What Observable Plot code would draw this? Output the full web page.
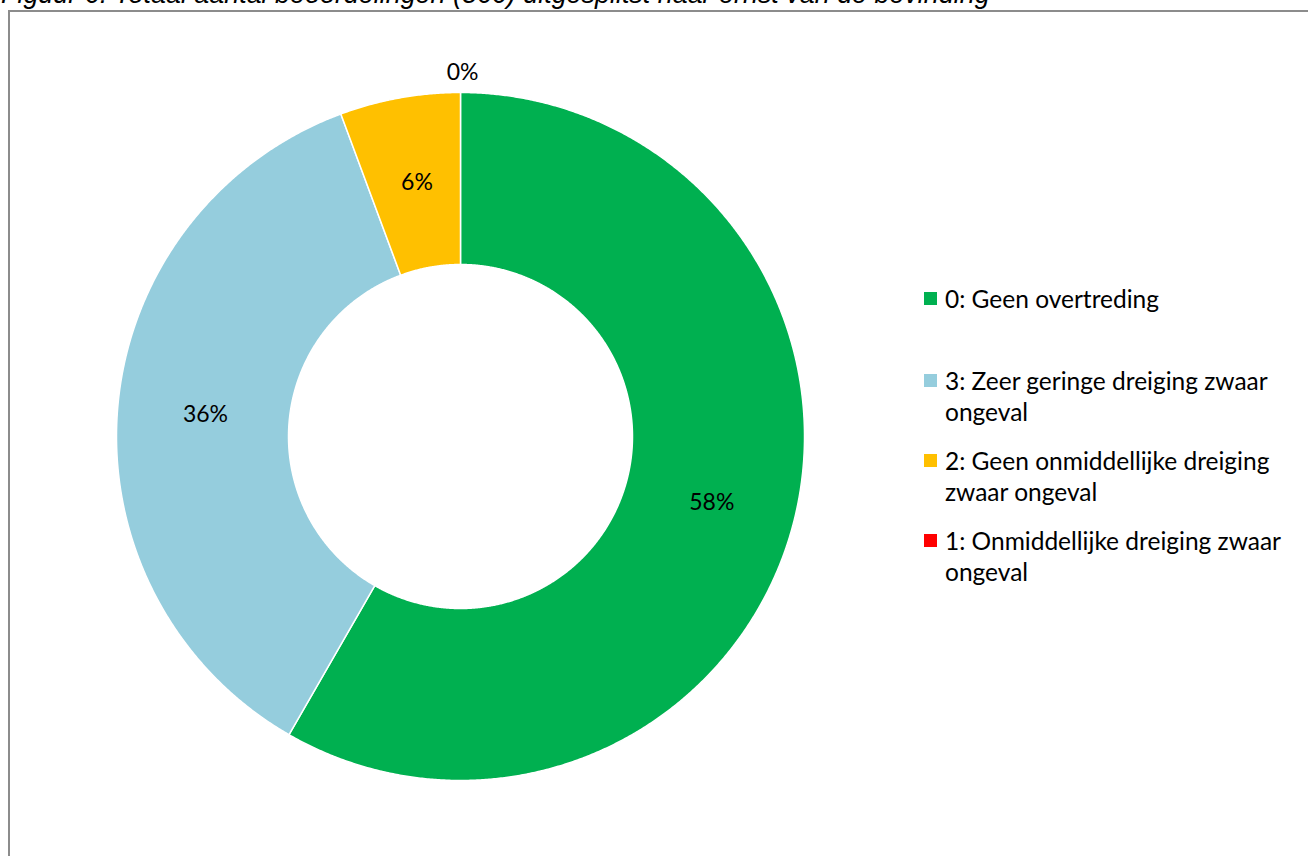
<!DOCTYPE html>
<html>
<head>
<meta charset="utf-8">
<script src="https://cdn.jsdelivr.net/npm/d3@7"></script>
<script src="https://cdn.jsdelivr.net/npm/@observablehq/plot@0.6"></script>
<style>
  html, body { margin: 0; padding: 0; background: #fff; overflow: hidden; }
  body { width: 1308px; height: 856px; position: relative; }
  #title { position: absolute; left: 1px; top: -20px; font: italic 26.9px "Liberation Sans", Arial, sans-serif; line-height: 28px; white-space: nowrap; color: #000; }
  #frame { position: absolute; left: 8px; top: 10px; width: 1320px; height: 880px; border: 2px solid #8c8c8c; box-sizing: border-box; background: #fff; }
  #chart { position: absolute; left: 10px; top: 12px; }
  #legend { position: absolute; left: 924px; top: 284px; font: 24.5px Lato, "Open Sans", sans-serif; color: #000; }
  .item { position: absolute; left: 0; width: 380px; line-height: 30px; }
  .sw { position: absolute; left: 0; width: 13px; height: 13px; }
  .txt { position: absolute; left: 21px; white-space: nowrap; }
</style>
</head>
<body>
<div id="title">Figuur 6: Totaal aantal beoordelingen (566) uitgesplitst naar ernst van de bevinding</div>
<div id="frame"></div>
<div id="chart"></div>
<div id="legend"></div>
<script>
const categories = ["0: Geen overtreding", "3: Zeer geringe dreiging zwaar ongeval", "2: Geen onmiddellijke dreiging zwaar ongeval", "1: Onmiddellijke dreiging zwaar ongeval"];
const legendLines = [["0: Geen overtreding"], ["3: Zeer geringe dreiging zwaar", "ongeval"], ["2: Geen onmiddellijke dreiging", "zwaar ongeval"], ["1: Onmiddellijke dreiging zwaar", "ongeval"]];
const counts = [330, 204, 32, 0];
const colors = ["#00b050", "#95cddd", "#ffc000", "#ff0000"];

const W = 1298, H = 846, cx = 450, cy = 424, R = 344, inner = 0.5;
const total = d3.sum(counts);

// slice polygons in unit-radius coordinates (angle clockwise from top)
const pts = [];
const labels = [];
let acc = 0;
counts.forEach((v, i) => {
  const a0 = acc / total * 2 * Math.PI;
  acc += v;
  const a1 = acc / total * 2 * Math.PI;
  const n = Math.max(2, Math.ceil((a1 - a0) / 0.005));
  const ring = [];
  for (let k = 0; k <= n; k++) { const a = a0 + (a1 - a0) * k / n; ring.push([Math.sin(a), Math.cos(a)]); }
  for (let k = n; k >= 0; k--) { const a = a0 + (a1 - a0) * k / n; ring.push([inner * Math.sin(a), inner * Math.cos(a)]); }
  if (v > 0) ring.forEach(([x, y]) => pts.push({cat: categories[i], x, y}));
  const mid = (a0 + a1) / 2;
  const pct = Math.round(v / total * 100);
  const r = pct < 1 ? 1.058 : 0.75;
  labels.push({x: r * Math.sin(mid) + 0.006, y: r * Math.cos(mid), text: pct + "%"});
});

const chart = Plot.plot({
  width: W, height: H,
  margin: 0,
  x: {domain: [-cx / R, (W - cx) / R], range: [0, W], axis: null},
  y: {domain: [-(H - cy) / R, cy / R], range: [H, 0], axis: null},
  color: {domain: categories, range: colors},
  style: {background: "transparent", fontFamily: "Lato, 'Open Sans', sans-serif"},
  marks: [
    Plot.line(pts, {x: "x", y: "y", z: "cat", fill: "cat", stroke: "#fff", strokeWidth: 1.5, curve: "linear-closed"}),
    Plot.text(labels, {x: "x", y: "y", text: "text", fontSize: 23, fill: "#000"})
  ]
});
document.getElementById("chart").appendChild(chart);

// legend
const legend = document.getElementById("legend");
const tops = [0, 82, 162, 242];
categories.forEach((c, i) => {
  const item = document.createElement("div");
  item.className = "item";
  item.style.top = tops[i] + "px";
  const sw = document.createElement("div");
  sw.className = "sw";
  sw.style.background = colors[i];
  sw.style.top = "8px";
  item.appendChild(sw);
  legendLines[i].forEach((line, j) => {
    const t = document.createElement("div");
    t.className = "txt";
    t.style.top = (j * 31) + "px";
    t.textContent = line;
    item.appendChild(t);
  });
  legend.appendChild(item);
});
</script>
</body>
</html>
